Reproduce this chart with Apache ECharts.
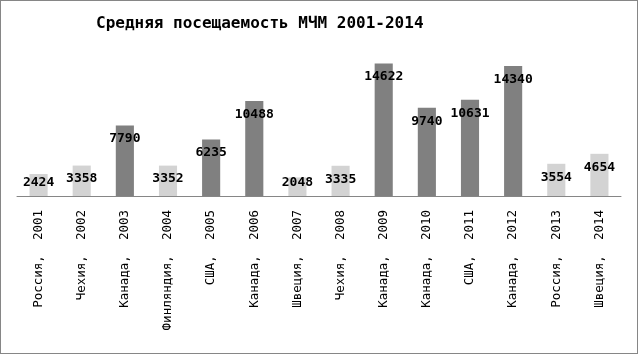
<!DOCTYPE html>
<html>
<head>
<meta charset="utf-8">
<script src="https://cdn.jsdelivr.net/npm/echarts@6/dist/echarts.min.js"></script>
<style>
  html, body { margin: 0; padding: 0; background: #fff; }
  #main { width: 638px; height: 354px; box-sizing: border-box; border: 1px solid #868686; }
</style>
</head>
<body>
<div id="main"></div>
<script>
// Средняя посещаемость МЧМ
var countries = ['Россия', 'Чехия', 'Канада', 'Финляндия', 'США', 'Канада', 'Швеция',
                 'Чехия', 'Канада', 'Канада', 'США', 'Канада', 'Россия', 'Швеция'];
var years = ['2001', '2002', '2003', '2004', '2005', '2006', '2007',
             '2008', '2009', '2010', '2011', '2012', '2013', '2014'];
var attendance = [2424, 3358, 7790, 3352, 6235, 10488, 2048,
                  3335, 14622, 9740, 10631, 14340, 3554, 4654];
// тёмные столбцы
var highlight = [false, false, true, false, true, true, false,
                 false, true, true, true, true, false, false];

var categories = countries.map(function (c, i) { return c + ',  ' + years[i]; });

var barData = attendance.map(function (v, i) {
    var item = {
        value: v,
        itemStyle: { color: highlight[i] ? '#808080' : '#d3d3d3' }
    };
    if (v < 3000) {
        item.label = { position: 'insideBottom', distance: 7 };
    }
    return item;
});

var option = {
    animation: false,
    title: {
        text: 'Средняя посещаемость МЧМ 2001-2014',
        left: 90,
        top: 10,
        textStyle: {
            fontFamily: 'DejaVu Sans Mono',
            fontSize: 16,
            fontWeight: 'bold',
            color: '#000'
        }
    },
    grid: {
        left: 16,
        right: 16,
        top: 50,
        bottom: 157,
        containLabel: false
    },
    xAxis: {
        type: 'category',
        data: categories,
        axisTick: { show: false },
        axisLine: { lineStyle: { color: '#868686', width: 1 } },
        axisLabel: {
            rotate: 90,
            interval: 0,
            margin: 14,
            fontFamily: 'DejaVu Sans Mono',
            fontSize: 12.5,
            color: '#000'
        }
    },
    yAxis: {
        type: 'value',
        min: 0,
        max: 16000,
        show: false,
        splitLine: { show: false }
    },
    series: [
        {
            type: 'bar',
            data: barData,
            barWidth: '42%',
            label: {
                show: true,
                position: 'insideTop',
                distance: 7,
                fontFamily: 'DejaVu Sans Mono',
                fontSize: 13,
                fontWeight: 'bold',
                color: '#000'
            }
        }
    ]
};

var myChart = echarts.init(document.getElementById('main'));
myChart.setOption(option);
</script>
</body>
</html>
